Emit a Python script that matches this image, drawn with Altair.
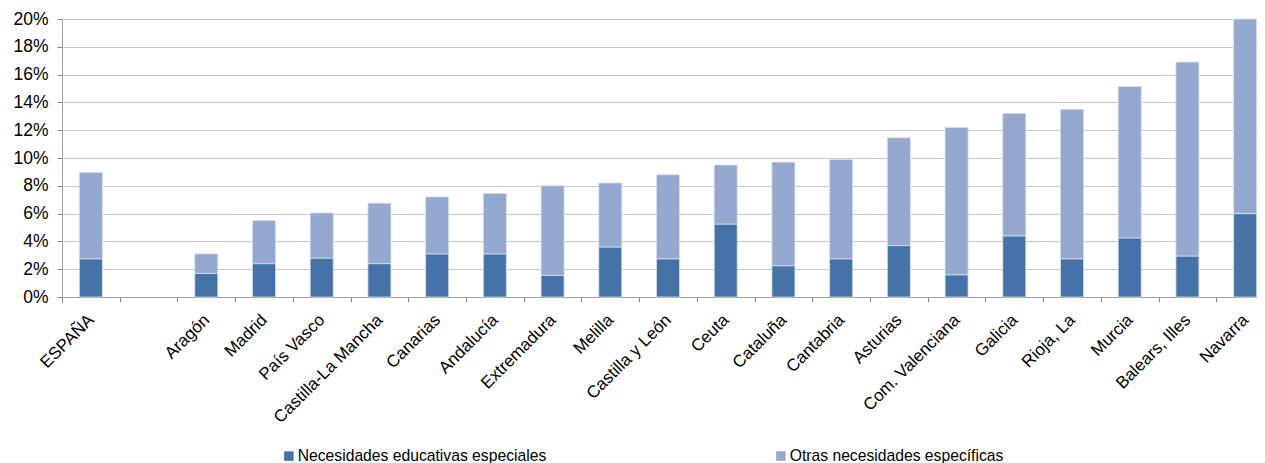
import altair as alt
import pandas as pd

regions = ["ESPAÑA", " ", "Aragón", "Madrid", "País Vasco", "Castilla-La Mancha", "Canarias",
           "Andalucía", "Extremadura", "Melilla", "Castilla y León", "Ceuta", "Cataluña",
           "Cantabria", "Asturias", "Com. Valenciana", "Galicia", "Rioja, La", "Murcia",
           "Balears, Illes", "Navarra"]
# percent values (None for the empty gap slot)
nee = [2.75, None, 1.7, 2.4, 2.8, 2.4, 3.1, 3.1, 1.55, 3.6, 2.75, 5.25, 2.25, 2.75, 3.7,
       1.6, 4.4, 2.75, 4.25, 2.95, 6.0]
total = [8.95, None, 3.1, 5.5, 6.05, 6.75, 7.2, 7.45, 8.0, 8.2, 8.8, 9.5, 9.7, 9.9, 11.45,
         12.2, 13.2, 13.5, 15.15, 16.9, 20.0]
series = ["Necesidades educativas especiales", "Otras necesidades específicas"]
colors = ["#4572A7", "#95A9D0"]

rows = []
for r, a, t in zip(regions, nee, total):
    if a is None:
        continue
    rows.append({"region": r, "serie": series[0], "v": a / 100, "o": 0})
    rows.append({"region": r, "serie": series[1], "v": (t - a) / 100, "o": 1})
df = pd.DataFrame(rows)

slot_range = 1212
font = "Liberation Sans"

chart = alt.Chart(df).mark_bar(size=23, stroke="#d5deee", strokeWidth=0.8).encode(
    x=alt.X("region:N", sort=regions,
            scale=alt.Scale(domain=regions, range=[0, slot_range], paddingInner=0, paddingOuter=0),
            axis=alt.Axis(title=None, labelAngle=-45, labelAlign="right", labelBaseline="middle",
                          labelFontSize=17, labelFont=font, labelColor="#000000",
                          tickBand="extent", tickSize=5, tickColor="#888888",
                          domainColor="#a0a0a0", labelPadding=15, grid=False, labelLimit=300)),
    y=alt.Y("v:Q", stack="zero",
            scale=alt.Scale(domain=[0, 0.2], nice=False),
            axis=alt.Axis(title=None, format=".0%", values=[i / 100 for i in range(0, 21, 2)],
                          labelFontSize=17.5, labelFont=font, labelColor="#000000",
                          tickSize=5, tickColor="#888888", domainColor="#a0a0a0",
                          gridColor="#c8c8c8", gridWidth=1.2, labelPadding=9)),
    color=alt.Color("serie:N", scale=alt.Scale(domain=series, range=colors),
                    legend=alt.Legend(title=None, orient="none", direction="horizontal",
                                      legendX=219, legendY=429, symbolType="square",
                                      symbolSize=90, symbolStrokeWidth=0, labelFontSize=15.7,
                                      labelFont=font, labelColor="#000000", columnPadding=226,
                                      labelLimit=400, symbolOffset=0, labelOffset=1)),
    order=alt.Order("o:Q", sort="ascending"),
).properties(
    width=1195, height=278,
    autosize=alt.AutoSizeParams(type="none"),
    padding={"left": 54, "top": 11, "right": 0, "bottom": 166},
).configure_view(stroke=None)

chart.save("out.html", embed_options={"renderer": "svg", "actions": False})
